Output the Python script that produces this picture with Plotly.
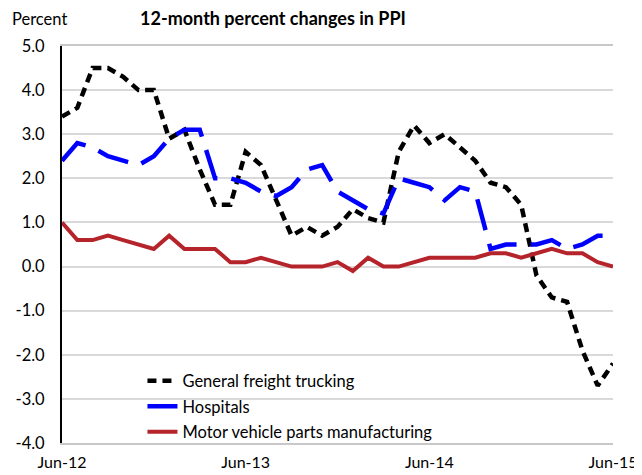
import plotly.graph_objects as go

months = [
    "Jun-12", "Jul-12", "Aug-12", "Sep-12", "Oct-12", "Nov-12", "Dec-12",
    "Jan-13", "Feb-13", "Mar-13", "Apr-13", "May-13", "Jun-13", "Jul-13",
    "Aug-13", "Sep-13", "Oct-13", "Nov-13", "Dec-13", "Jan-14", "Feb-14",
    "Mar-14", "Apr-14", "May-14", "Jun-14", "Jul-14", "Aug-14", "Sep-14",
    "Oct-14", "Nov-14", "Dec-14", "Jan-15", "Feb-15", "Mar-15", "Apr-15",
    "May-15", "Jun-15",
]

trucking = [3.4, 3.6, 4.5, 4.5, 4.3, 4.0, 4.0, 2.9, 3.1, 2.2, 1.4, 1.4, 2.6,
            2.3, 1.5, 0.7, 0.9, 0.7, 0.9, 1.3, 1.1, 1.0, 2.6, 3.2, 2.8, 3.0,
            2.7, 2.4, 1.9, 1.8, 1.4, -0.2, -0.7, -0.8, -1.9, -2.7, -2.2]

hospitals = [2.4, 2.8, 2.7, 2.5, 2.4, 2.3, 2.5, 2.9, 3.1, 3.1, 2.0, 2.0, 1.9,
             1.7, 1.6, 1.8, 2.2, 2.3, 1.7, 1.5, 1.3, 1.2, 2.0, 1.9, 1.8, 1.5,
             1.8, 1.7, 0.4, 0.5, 0.5, 0.5, 0.6, 0.4, 0.5, 0.7, 0.7]

motor_parts = [1.0, 0.6, 0.6, 0.7, 0.6, 0.5, 0.4, 0.7, 0.4, 0.4, 0.4, 0.1, 0.1,
               0.2, 0.1, 0.0, 0.0, 0.0, 0.1, -0.1, 0.2, 0.0, 0.0, 0.1, 0.2, 0.2,
               0.2, 0.2, 0.3, 0.3, 0.2, 0.3, 0.4, 0.3, 0.3, 0.1, 0.0]

x_tick_labels = ["Jun-12", "Jun-13", "Jun-14", "Jun-15"]
y_ticks = [5.0, 4.0, 3.0, 2.0, 1.0, 0.0, -1.0, -2.0, -3.0, -4.0]

FONT = "Lato, Carlito, Calibri, sans-serif"

fig = go.Figure()
fig.add_trace(go.Scatter(
    x=months, y=trucking, mode="lines", name="General freight trucking",
    legendgroup="g1",
    line=dict(color="#000000", width=4.5, dash="9px,6px"),
))
fig.add_trace(go.Scatter(
    x=months, y=hospitals, mode="lines", name="Hospitals",
    legendgroup="g2",
    line=dict(color="#0000FF", width=4.5, dash="32px,14px"),
))
fig.add_trace(go.Scatter(
    x=months, y=motor_parts, mode="lines", name="Motor vehicle parts manufacturing",
    legendgroup="g3",
    line=dict(color="#B5232B", width=4),
))

tick_idx = [months.index(m) for m in x_tick_labels]

# The page body has an 8px margin, so the figure is sized 8px smaller
fig.update_layout(
    width=634, height=467,
    margin=dict(l=54, r=29, t=38, b=32, autoexpand=False),
    paper_bgcolor="white", plot_bgcolor="white",
    font=dict(family=FONT, size=16, color="#000000"),
    showlegend=True,
    legend=dict(
        x=0.146, xanchor="left", y=0.2, yanchor="top",
        bgcolor="rgba(0,0,0,0)", font=dict(size=16.5, family=FONT),
        tracegroupgap=1, itemwidth=30,
    ),
    title=dict(
        text="<b>12-month percent changes in PPI</b>",
        x=0.383, xanchor="center", xref="paper",
        y=0.977, yanchor="middle", yref="container",
        font=dict(size=18, family=FONT, color="#000000"),
    ),
    xaxis=dict(
        type="category", range=[0, 36], automargin=False,
        tickmode="array", tickvals=x_tick_labels, ticktext=x_tick_labels,
        showgrid=False, zeroline=False,
        showline=True, linecolor="#C8C8C8", linewidth=1.5, mirror=True,
        ticks="", ticklabelstandoff=4,
        tickfont=dict(size=16, family=FONT),
    ),
    xaxis2=dict(
        overlaying="x", anchor="free", position=4 / 9, type="linear",
        range=[0, 36], tickmode="array", tickvals=tick_idx, automargin=False,
        showticklabels=False, showgrid=False, zeroline=False,
        showline=True, linecolor="#000000", linewidth=1.5,
        ticks="outside", ticklen=7, tickwidth=1.5, tickcolor="#000000",
    ),
    xaxis3=dict(
        overlaying="x", anchor="free", position=4 / 9, type="linear",
        range=[0, 36], tickmode="array", tickvals=tick_idx, automargin=False,
        showticklabels=False, showgrid=False, zeroline=False,
        showline=False,
        ticks="inside", ticklen=3, tickwidth=1.5, tickcolor="#000000",
    ),
    yaxis=dict(
        range=[-4, 5], tickmode="array", tickvals=y_ticks, automargin=False,
        ticktext=[f"{v:.1f}" for v in y_ticks],
        showgrid=True, gridcolor="#D9D9D9", gridwidth=1.5,
        zeroline=False,
        showline=True, linecolor="#000000", linewidth=2,
        ticks="", ticklabelstandoff=12,
        tickfont=dict(size=16.5, family=FONT),
    ),
)

fig.add_annotation(
    text="Percent", xref="paper", yref="paper",
    x=-0.0945, xanchor="left", y=1.069, yanchor="middle",
    showarrow=False, font=dict(size=16.5, family=FONT, color="#000000"),
)

fig.write_html("out.html")
